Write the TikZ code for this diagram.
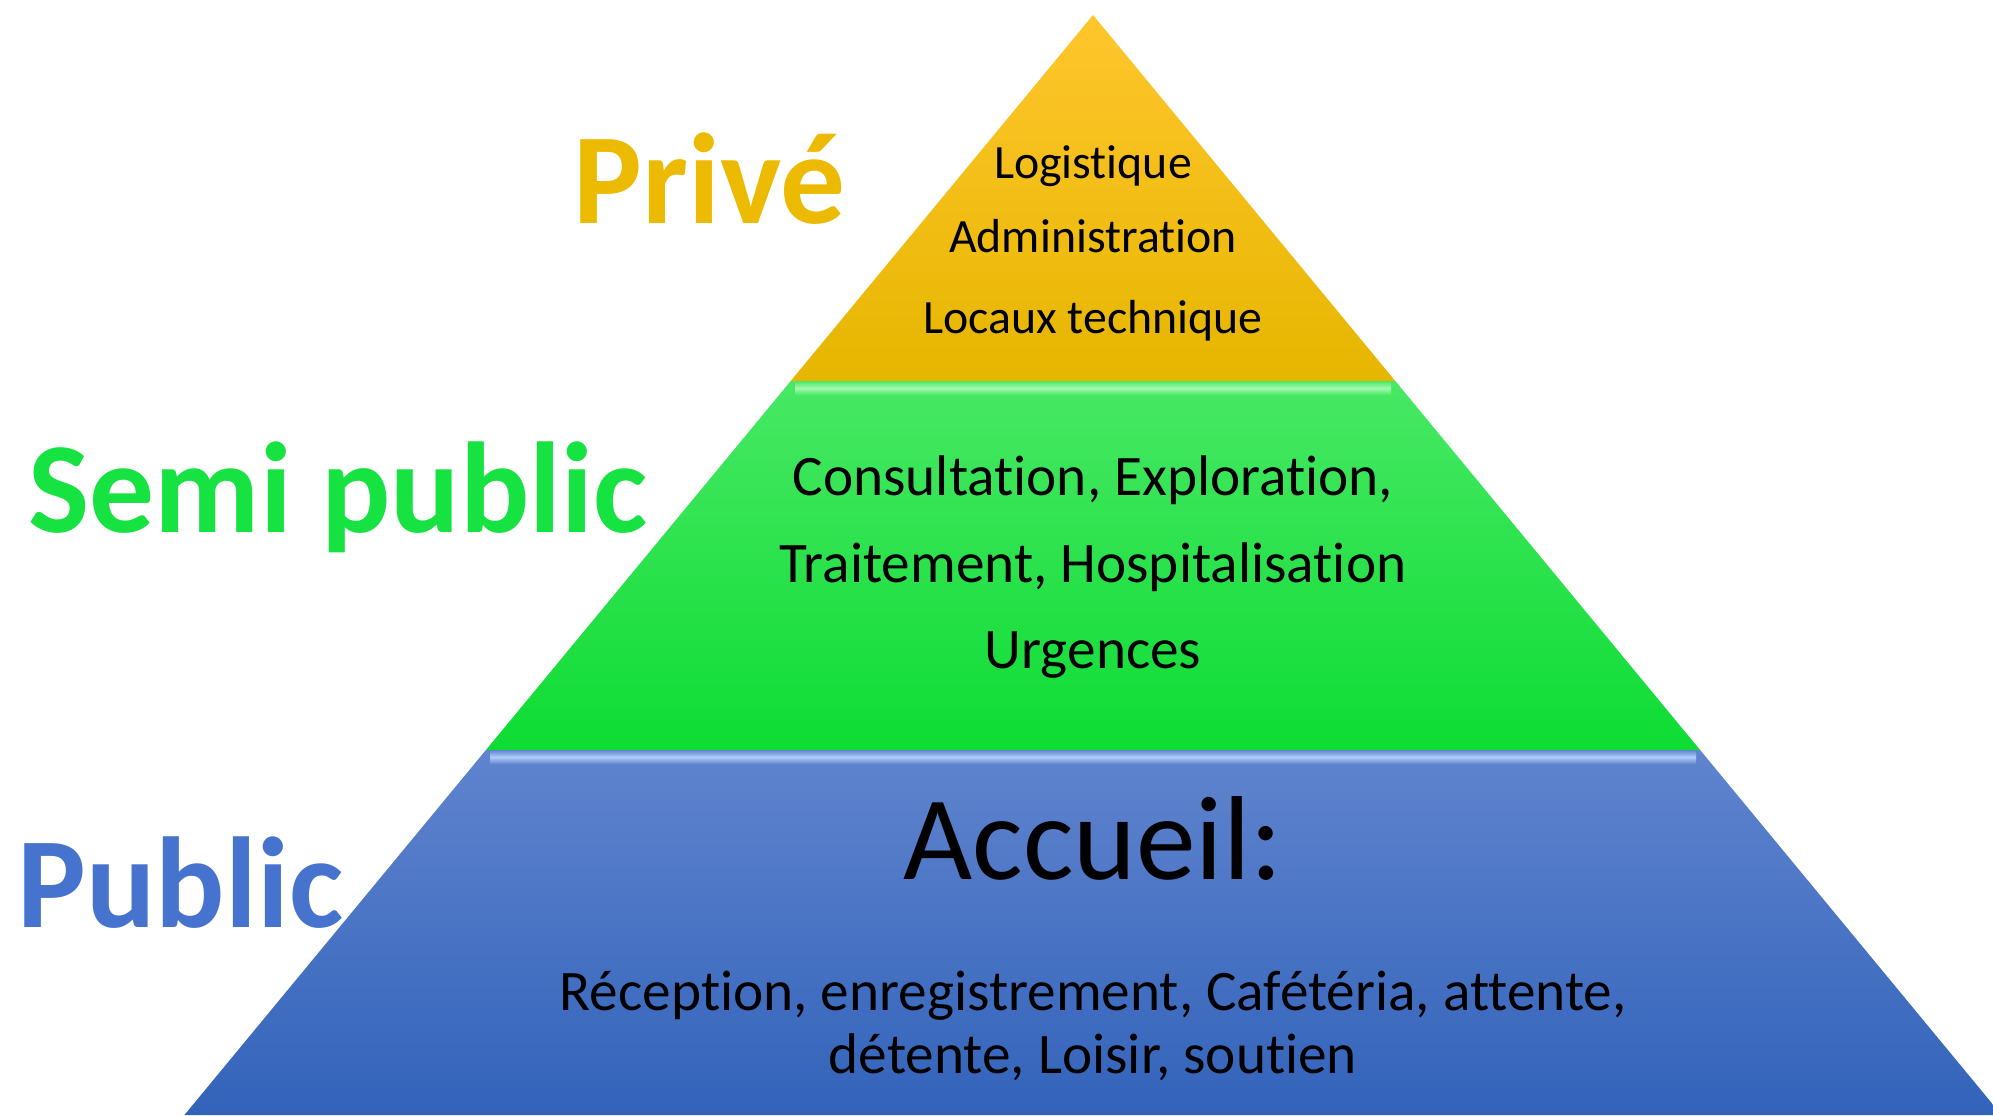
\documentclass[tikz,border=0pt]{standalone}
\usepackage{fontspec}
\setmainfont{Carlito}[Ligatures=NoCommon]
\usetikzlibrary{positioning}
\definecolor{prgold}{RGB}{236,186,0}
\definecolor{prtop}{RGB}{255,198,45}
\definecolor{prbot}{RGB}{230,182,0}
\definecolor{spgreen}{RGB}{22,226,66}
\definecolor{sptop}{RGB}{72,232,100}
\definecolor{spbot}{RGB}{14,220,52}
\definecolor{spglint}{RGB}{165,248,175}
\definecolor{pbblue}{RGB}{70,115,205}
\definecolor{pbtop}{RGB}{96,132,206}
\definecolor{pbbot}{RGB}{50,99,186}
\definecolor{pbglint}{RGB}{175,205,250}
\tikzset{
  tierlabel/.style={anchor=base west, inner sep=0pt, font=\fontsize{36.8}{40}\selectfont\bfseries},
  tiertext/.style={anchor=base, inner sep=0pt, font=\fontsize{16.3}{19}\selectfont},
  toptext/.style={anchor=base, inner sep=0pt, font=\fontsize{13.6}{16}\selectfont},
  bigtext/.style={anchor=base, inner sep=0pt, font=\fontsize{34}{37}\selectfont}
}

\begin{document}
\begin{tikzpicture}[x=0.1mm, y=-0.1mm]
\useasboundingbox (0,0) rectangle (1993,1115);
\begin{scope}
\clip (0,0) rectangle (1993,1115);
% pyramid corners
\coordinate (apex) at (1093,15);
\coordinate (tl) at (790.7,381);
\coordinate (tr) at (1395.3,381);
\coordinate (ml) at (485.9,750);
\coordinate (mr) at (1700.1,750);
\coordinate (bl) at (184.4,1115);
\coordinate (br) at (2001.6,1115);
% tiers
\shade[top color=prtop, bottom color=prbot] (apex) -- (tr) -- (tl) -- cycle;
\shade[top color=sptop, bottom color=spbot] (tl) -- (tr) -- (mr) -- (ml) -- cycle;
\shade[top color=pbtop, bottom color=pbbot] (ml) -- (mr) -- (br) -- (bl) -- cycle;
% glints
\shade[top color=sptop, bottom color=sptop, middle color=spglint] (795,381) rectangle (1391,395);
\shade[top color=pbtop, bottom color=pbtop, middle color=pbglint] (490,750) rectangle (1696,764);
\end{scope}
% labels
\node[tierlabel, text=prgold] (prive) at (573,223) {Privé};
\node[tierlabel, text=spgreen] (semi) at (28,532) {Semi public};
\node[tierlabel, text=pbblue] (public) at (17,927) {Public};
% top tier
\node[toptext] (logi) at (1093,178) {Logistique};
\node[toptext] (admin) at (1093,252) {Administration};
\node[toptext] (locaux) at (1093,333) {Locaux technique};
% middle tier
\node[tiertext] (consult) at (1093,495) {Consultation, Exploration,};
\node[tiertext] (traite) at (1093,582) {Traitement, Hospitalisation};
\node[tiertext] (urg) at (1093,668) {Urgences};
% bottom tier
\node[bigtext] (accueil) at (1093,879) {Accueil:};
\node[tiertext] (recep) at (1093,1010) {Réception, enregistrement, Cafétéria, attente,};
\node[tiertext] (detente) at (1093,1073) {détente, Loisir, soutien};
\end{tikzpicture}
\end{document}
